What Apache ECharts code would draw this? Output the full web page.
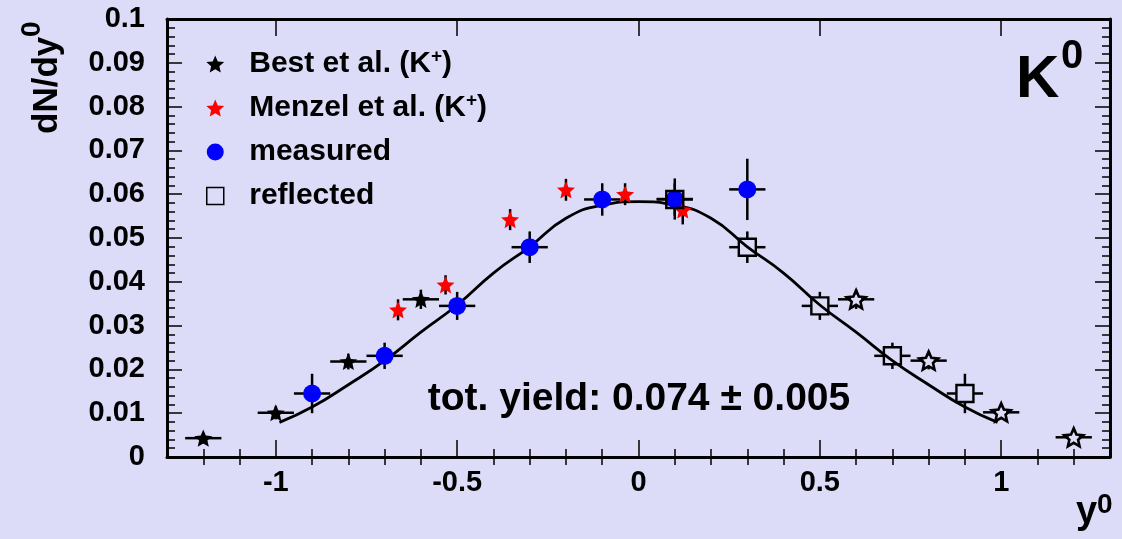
<!DOCTYPE html>
<html><head><meta charset="utf-8">
<script src="https://cdn.jsdelivr.net/npm/echarts@6/dist/echarts.min.js"></script>
<style>html,body{margin:0;padding:0;background:#dcdcf9}#c{width:1122px;height:539px}</style>
</head><body><div id="c"></div>
<script>
// ---- data ----
const bestX = [-1.2, -1.0, -0.8, -0.6];
const bestY = [0.0043, 0.0101, 0.0218, 0.0360];
const bestXErr = [0.05, 0.05, 0.05, 0.05];
const bestYErr = [0.0012, 0.0015, 0.0018, 0.0022];

const bestReflX = [0.6, 0.8, 1.0, 1.2];
const bestReflY = [0.0360, 0.0220, 0.0102, 0.0045];
const bestReflXErr = [0.05, 0.05, 0.05, 0.05];
const bestReflYErr = [0.0022, 0.0020, 0.0016, 0.0012];

const menzelX = [-0.663, -0.532, -0.354, -0.200, -0.037, 0.122];
const menzelY = [0.0336, 0.0393, 0.0542, 0.0610, 0.0600, 0.0564];
const menzelYErr = [0.0024, 0.0022, 0.0024, 0.0025, 0.0025, 0.0033];

const measX = [-0.9, -0.7, -0.5, -0.3, -0.1, 0.1, 0.3];
const measY = [0.0145, 0.0231, 0.0345, 0.0479, 0.0588, 0.0589, 0.0611];
const measXErr = [0.05, 0.05, 0.05, 0.05, 0.05, 0.05, 0.05];
const measYErr = [0.0045, 0.0030, 0.0032, 0.0036, 0.0037, 0.0047, 0.0070];

const reflX = [0.1, 0.3, 0.5, 0.7, 0.9];
const reflY = [0.0588, 0.0479, 0.0345, 0.0231, 0.0145];
const reflXErr = [0.05, 0.05, 0.05, 0.05, 0.05];
const reflYErr = [0.0037, 0.0036, 0.0032, 0.0030, 0.0045];

const curveX = [-0.99,-0.9,-0.8,-0.7,-0.6,-0.5,-0.4,-0.3,-0.2,-0.1,0,0.1,0.2,0.3,0.4,0.5,0.6,0.7,0.8,0.9,0.99];
const curveY = [0.0079,0.0114,0.0165,0.0220,0.0285,0.0347,0.0420,0.0480,0.0545,0.0575,0.0583,0.0575,0.0545,0.0480,0.0420,0.0347,0.0285,0.0220,0.0165,0.0114,0.0079];

const xMajorTicks = [-1, -0.5, 0, 0.5, 1];
const xMinorTicks = [-1.2,-1.1,-0.9,-0.8,-0.7,-0.6,-0.4,-0.3,-0.2,-0.1,0.1,0.2,0.3,0.4,0.6,0.7,0.8,0.9,1.1,1.2];

const legendNames = ['Best et al. (K+)', 'Menzel et al. (K+)', 'measured', 'reflected'];
const totYieldText = 'tot. yield: 0.074 \u00b1 0.005';

// ---- styling helpers ----
const FONT = '"Liberation Sans", Arial, Helvetica, sans-serif';
function starPath() {
  const pts = [];
  for (let i = 0; i < 10; i++) {
    const a = (-90 + i * 36) * Math.PI / 180;
    const r = i % 2 ? 23 : 50;
    pts.push((50 + r * Math.cos(a)).toFixed(2) + ' ' + (50 + r * Math.sin(a)).toFixed(2));
  }
  return 'path://M' + pts.join(' L') + ' Z';
}
const STAR = starPath();
const SQUARE = 'path://M0 0 L100 0 L100 100 L0 100 Z';

function pairs(xs, ys) { return xs.map((x, i) => [x, ys[i]]); }

function errSeries(name, xs, ys, exs, eys, gap) {
  return {
    name: name, type: 'custom', silent: true, z: 3,
    encode: { x: 0, y: 1 },
    data: xs.map((x, i) => [x, ys[i], exs ? exs[i] : 0, eys ? eys[i] : 0]),
    renderItem: function (params, api) {
      const x = api.value(0), y = api.value(1), ex = api.value(2), ey = api.value(3);
      const c = api.coord([x, y]);
      const st = { stroke: '#000', lineWidth: 2.5 };
      const ch = [];
      if (ex > 0) {
        const l = api.coord([x - ex, y])[0], r = api.coord([x + ex, y])[0];
        if (c[0] - gap > l) ch.push({ type: 'line', shape: { x1: l, y1: c[1], x2: c[0] - gap, y2: c[1] }, style: st });
        if (c[0] + gap < r) ch.push({ type: 'line', shape: { x1: c[0] + gap, y1: c[1], x2: r, y2: c[1] }, style: st });
      }
      if (ey > 0) {
        const t = api.coord([x, y + ey])[1], b = api.coord([x, y - ey])[1];
        if (c[1] - gap > t) ch.push({ type: 'line', shape: { x1: c[0], y1: t, x2: c[0], y2: c[1] - gap }, style: st });
        if (c[1] + gap < b) ch.push({ type: 'line', shape: { x1: c[0], y1: c[1] + gap, x2: c[0], y2: b }, style: st });
      }
      return { type: 'group', children: ch };
    }
  };
}

const xBase = { type: 'value', min: -1.3, max: 1.3, splitLine: { show: false } };
const tickStyle = { color: '#000', width: 1.5 };
const labelStyle = { color: '#000', fontSize: 29, fontWeight: 'bold', fontFamily: FONT };

const chart = echarts.init(document.getElementById('c'), null, { renderer: 'canvas' });
chart.setOption({
  animation: false,
  backgroundColor: '#dcdcf9',
  grid: { left: 167, right: 12, top: 19, bottom: 82 },
  xAxis: [
    Object.assign({}, xBase, { position: 'bottom',
      axisLine: { show: true, onZero: false, lineStyle: { color: '#000', width: 3 } },
      axisTick: { show: true, inside: true, length: 17, customValues: xMajorTicks, lineStyle: tickStyle },
      axisLabel: Object.assign({ show: true, margin: 11, customValues: xMajorTicks, formatter: v => String(v) }, labelStyle) }),
    Object.assign({}, xBase, { position: 'bottom',
      axisLine: { show: false }, axisLabel: { show: false },
      axisTick: { show: true, inside: true, length: 8, customValues: xMinorTicks, lineStyle: tickStyle } }),
    Object.assign({}, xBase, { position: 'top',
      axisLine: { show: true, onZero: false, lineStyle: { color: '#000', width: 3 } }, axisLabel: { show: false },
      axisTick: { show: true, inside: true, length: 17, customValues: xMajorTicks, lineStyle: tickStyle } }),
    Object.assign({}, xBase, { position: 'top',
      axisLine: { show: false }, axisLabel: { show: false },
      axisTick: { show: true, inside: true, length: 8, customValues: xMinorTicks, lineStyle: tickStyle } })
  ],
  yAxis: [
    { type: 'value', min: 0, max: 0.1, interval: 0.01, position: 'left',
      splitLine: { show: false },
      axisLine: { show: true, onZero: false, lineStyle: { color: '#000', width: 3 } },
      axisTick: { show: true, inside: true, length: 15, lineStyle: tickStyle },
      minorTick: { show: true, splitNumber: 5, length: 8, lineStyle: tickStyle },
      axisLabel: Object.assign({ margin: 22, formatter: v => String(+v.toFixed(3)) }, labelStyle) },
    { type: 'value', min: 0, max: 0.1, interval: 0.01, position: 'right',
      splitLine: { show: false },
      axisLine: { show: true, onZero: false, lineStyle: { color: '#000', width: 3 } },
      axisTick: { show: true, inside: true, length: 15, lineStyle: tickStyle },
      minorTick: { show: true, splitNumber: 5, length: 8, lineStyle: tickStyle },
      axisLabel: { show: false } }
  ],
  legend: {
    orient: 'vertical', left: 206, top: 47, padding: 0,
    itemWidth: 58, itemHeight: 17, itemGap: 10, selectedMode: false,
    data: [
      { name: legendNames[0], icon: STAR, itemStyle: { color: '#000', opacity: 1 } },
      { name: legendNames[1], icon: STAR, itemStyle: { color: '#ff0000', opacity: 1 } },
      { name: legendNames[2], icon: 'circle', itemStyle: { color: '#0000ff', opacity: 1 } },
      { name: legendNames[3], icon: SQUARE, itemStyle: { color: 'rgba(0,0,0,0)', borderColor: '#000', borderWidth: 1.5, opacity: 1 } }
    ],
    formatter: function (n) { return n.replace('K+', 'K{s|+}'); },
    textStyle: { color: '#000', fontSize: 30, fontWeight: 'bold', fontFamily: FONT, lineHeight: 34,
      rich: { s: { fontSize: 19, fontWeight: 'bold', fontFamily: FONT, color: '#000', verticalAlign: 'top', lineHeight: 34 } } }
  },
  graphic: [
    { type: 'text', x: 47, y: 134, rotation: Math.PI / 2,
      style: { text: 'dN/dy', fontSize: 35, fontWeight: 'bold', fontFamily: FONT, fill: '#000', textAlign: 'left', textVerticalAlign: 'middle' } },
    { type: 'text', x: 32, y: 37, rotation: Math.PI / 2,
      style: { text: '0', fontSize: 28, fontWeight: 'bold', fontFamily: FONT, fill: '#000', textAlign: 'left', textVerticalAlign: 'middle' } },
    { type: 'text', x: 1076, y: 513,
      style: { text: 'y', fontSize: 38, fontWeight: 'bold', fontFamily: FONT, fill: '#000', textAlign: 'left', textVerticalAlign: 'middle' } },
    { type: 'text', x: 1097, y: 505,
      style: { text: '0', fontSize: 28, fontWeight: 'bold', fontFamily: FONT, fill: '#000', textAlign: 'left', textVerticalAlign: 'middle' } },
    { type: 'text', x: 1016, y: 80,
      style: { text: 'K', fontSize: 60, fontWeight: 'bold', fontFamily: FONT, fill: '#000', textAlign: 'left', textVerticalAlign: 'middle' } },
    { type: 'text', x: 1061, y: 57,
      style: { text: '0', fontSize: 40, fontWeight: 'bold', fontFamily: FONT, fill: '#000', textAlign: 'left', textVerticalAlign: 'middle' } },
    { type: 'text', x: 639, y: 399,
      style: { text: totYieldText, fontSize: 39, fontWeight: 'bold', fontFamily: FONT, fill: '#000', textAlign: 'center', textVerticalAlign: 'middle' } }
  ],
  series: [
    { name: 'fit', type: 'line', data: pairs(curveX, curveY), smooth: true, showSymbol: false, symbol: 'none',
      lineStyle: { color: '#000', width: 2.8 }, z: 2, silent: true },
    errSeries('bestErr', bestX, bestY, bestXErr, bestYErr, 0),
    errSeries('bestReflErr', bestReflX, bestReflY, bestReflXErr, bestReflYErr, 5),
    errSeries('menzelErr', menzelX, menzelY, null, menzelYErr, 0),
    errSeries('measErr', measX, measY, measXErr, measYErr, 0),
    errSeries('reflErr', reflX, reflY, reflXErr, reflYErr, 9),
    { name: legendNames[0], type: 'scatter', data: pairs(bestX, bestY), symbol: STAR, symbolSize: 18, symbolKeepAspect: true,
      itemStyle: { color: '#000', opacity: 1 }, z: 5 },
    { name: 'Best reflected', type: 'scatter', data: pairs(bestReflX, bestReflY), symbol: STAR, symbolSize: 19, symbolKeepAspect: true,
      itemStyle: { color: 'rgba(0,0,0,0)', borderColor: '#000', borderWidth: 2.6, opacity: 1 }, z: 5 },
    { name: legendNames[1], type: 'scatter', data: pairs(menzelX, menzelY), symbol: STAR, symbolSize: 18, symbolKeepAspect: true,
      itemStyle: { color: '#ff0000', opacity: 1 }, z: 5 },
    { name: legendNames[2], type: 'scatter', data: pairs(measX, measY), symbol: 'circle', symbolSize: 18,
      itemStyle: { color: '#0000ff', opacity: 1 }, z: 5 },
    { name: legendNames[3], type: 'scatter', data: pairs(reflX, reflY), symbol: SQUARE, symbolSize: 17, symbolKeepAspect: true,
      itemStyle: { color: 'rgba(0,0,0,0)', borderColor: '#000', borderWidth: 2.4, opacity: 1 }, z: 6 }
  ]
});
</script></body></html>
